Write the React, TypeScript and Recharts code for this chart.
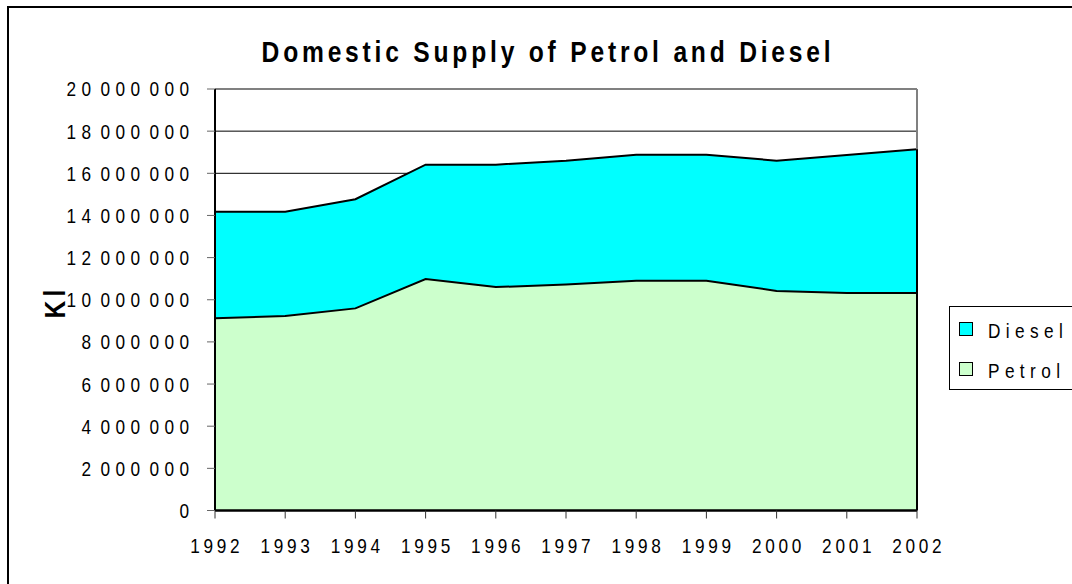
import React from 'react';
import { ComposedChart, Area, Line, XAxis, YAxis, CartesianGrid, ReferenceLine } from 'recharts';

const years = ['1992', '1993', '1994', '1995', '1996', '1997', '1998', '1999', '2000', '2001', '2002'];
const petrol = [9120000, 9230000, 9590000, 10980000, 10600000, 10720000, 10900000, 10900000, 10420000, 10320000, 10320000];
const diesel = [5060000, 4950000, 5180000, 5430000, 5810000, 5880000, 5980000, 5980000, 6180000, 6550000, 6820000];
const yTicks = [0, 2000000, 4000000, 6000000, 8000000, 10000000, 12000000, 14000000, 16000000, 18000000, 20000000];

const data = years.map((y, i) => ({ year: y, petrol: petrol[i], diesel: diesel[i] }));
const lastTotal = petrol[petrol.length - 1] + diesel[diesel.length - 1];

const FONT = "'Liberation Sans', Arial, sans-serif";
const SX = 0.82; // horizontal condensing to mimic Arial Narrow
const AX_FS = 21;
const X_LS = 3.7; // on-screen letter spacing
const Y_LS = 5.4;

const fmt = (n: number) => String(n).replace(/\B(?=(\d{3})+(?!\d))/g, ' ');

const XTick = (props: any) => {
  const { x, y, payload } = props;
  return (
    <text
      transform={`translate(${x + X_LS / 2}, ${y}) scale(${SX}, 1)`}
      x={0}
      y={0}
      dy="0.71em"
      textAnchor="middle"
      fill="#000"
      fontSize={AX_FS}
      fontFamily={FONT}
      letterSpacing={X_LS / SX}
    >
      {payload.value}
    </text>
  );
};

const YTick = (props: any) => {
  const { x, y, payload } = props;
  return (
    <text
      transform={`translate(${x}, ${y}) scale(${SX}, 1)`}
      x={0}
      y={0}
      dy="0.355em"
      textAnchor="end"
      fill="#000"
      fontSize={AX_FS}
      fontFamily={FONT}
      letterSpacing={Y_LS / SX}
      wordSpacing={-7.5}
    >
      {fmt(payload.value)}
    </text>
  );
};

const KlLabel = () => (
  <text
    transform={`translate(65, 302) rotate(-90) scale(${SX}, 1)`}
    x={0}
    y={0}
    textAnchor="middle"
    fill="#000"
    fontSize={30}
    fontWeight="bold"
    fontFamily={FONT}
    letterSpacing={5}
  >
    Kl
  </text>
);

const legendItems = [
  { name: 'Diesel', color: '#00FFFF' },
  { name: 'Petrol', color: '#CCFFCC' },
];

export default function App() {
  return (
    <div style={{ position: 'absolute', left: 0, top: 0, width: 1072, height: 584, overflow: 'hidden', background: '#fff' }}>
      <div style={{ position: 'absolute', left: 7, top: 6, width: 1200, height: 700, border: '2px solid #000', boxSizing: 'border-box' }} />
      <div
        style={{
          position: 'absolute', left: 47.5, top: 36.5, width: 1000, textAlign: 'center',
          fontFamily: FONT, fontSize: 30, fontWeight: 'bold', lineHeight: 1, letterSpacing: 3.8 / SX, color: '#000',
          whiteSpace: 'nowrap', transform: `scaleX(${SX})`, transformOrigin: '50% 50%',
        }}
      >
        Domestic Supply of Petrol and Diesel
      </div>
      <div style={{ position: 'absolute', left: 0, top: 0 }}>
        <ComposedChart width={1072} height={584} data={data} margin={{ top: 89, right: 155, bottom: 43.5, left: 0 }}>
          <CartesianGrid vertical={false} stroke="#000" strokeWidth={1} />
          <XAxis
            dataKey="year"
            scale="point"
            padding={{ left: 0, right: 0 }}
            height={30}
            tickSize={8}
            tickMargin={19.5}
            tick={<XTick />}
            interval={0}
            axisLine={{ stroke: '#000', strokeWidth: 2.5 }}
            tickLine={{ stroke: '#333', strokeWidth: 1 }}
          />
          <YAxis
            type="number"
            domain={[0, 20000000]}
            ticks={yTicks}
            interval={0}
            width={215}
            tickSize={8}
            tickMargin={12.6}
            tick={<YTick />}
            axisLine={{ stroke: '#000', strokeWidth: 2 }}
            tickLine={{ stroke: '#666', strokeWidth: 1 }}
            label={<KlLabel />}
          />
          <Area type="linear" dataKey="petrol" stackId="a" fill="#CCFFCC" fillOpacity={1} stroke="none" isAnimationActive={false} />
          <Area type="linear" dataKey="diesel" stackId="a" fill="#00FFFF" fillOpacity={1} stroke="#000" strokeWidth={2} isAnimationActive={false} />
          <Line type="linear" dataKey="petrol" stroke="#000" strokeWidth={2} dot={false} activeDot={false} isAnimationActive={false} />
          <ReferenceLine y={20000000} stroke="#808080" strokeWidth={2} />
          <ReferenceLine x="2002" stroke="#808080" strokeWidth={2} />
          <ReferenceLine segment={[{ x: '2002', y: 0 }, { x: '2002', y: lastTotal }]} stroke="#000" strokeWidth={2} />
        </ComposedChart>
      </div>
      <div style={{ position: 'absolute', left: 949, top: 306, width: 200, height: 84, border: '1px solid #000', boxSizing: 'border-box' }} />
      {legendItems.map((it, i) => (
        <React.Fragment key={it.name}>
          <div
            style={{
              position: 'absolute', left: 959, top: 322 + i * 40, width: 14, height: 14,
              background: it.color, border: '1.5px solid #000', boxSizing: 'border-box',
            }}
          />
          <div
            style={{
              position: 'absolute', left: 988, top: 320 + i * 40, fontFamily: FONT, fontSize: 21, lineHeight: 1,
              letterSpacing: 5.4 / SX, color: '#000', whiteSpace: 'nowrap',
              transform: `scaleX(${SX})`, transformOrigin: '0 50%',
            }}
          >
            {it.name}
          </div>
        </React.Fragment>
      ))}
    </div>
  );
}
